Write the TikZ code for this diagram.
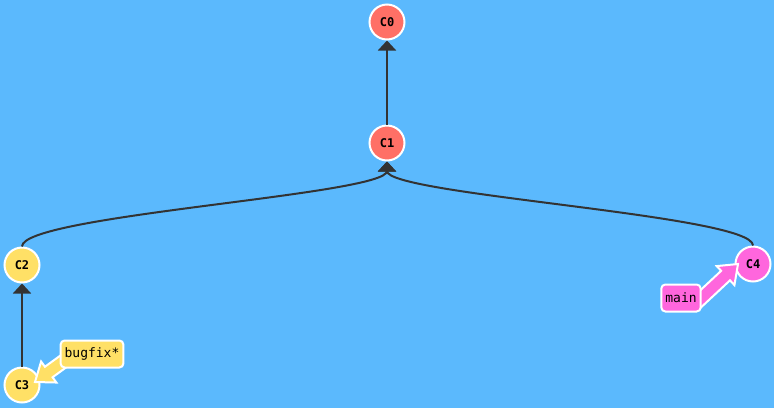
\documentclass[tikz,border=0pt]{standalone}
\usepackage{fontspec}
\setmonofont{DejaVu Sans Mono}
\usetikzlibrary{arrows.meta}
\definecolor{bg}{HTML}{5BB9FD}
\definecolor{cred}{HTML}{FF7066}
\definecolor{cyel}{HTML}{FFE066}
\definecolor{cpink}{HTML}{FF66DD}
\definecolor{edge}{HTML}{333333}
\tikzset{
  commit/.style={circle,draw=white,line width=2pt,minimum size=35pt,inner sep=0pt,font=\ttfamily\bfseries\fontsize{12}{14}\selectfont},
  branch/.style={rounded corners=4pt,draw=white,line width=2pt,inner xsep=4pt,minimum height=27pt,font=\ttfamily\fontsize{13}{15}\selectfont},
  link/.style={draw=edge,line width=2pt,-{Triangle[length=10pt,width=18pt]}},
  fatarrow/.style={draw=white,line width=2pt,line join=miter},
}
% #1 tip coordinate, #2 canvas angle of pointing direction, #3 length, #4 colour
\newcommand{\fatarrow}[4]{%
  \begin{scope}[shift={(#1)},rotate=#2]
    \filldraw[fatarrow,fill=#4]
      (-#3pt,6.5pt) -- (-17pt,6.5pt) -- (-17pt,13pt) -- (0pt,0pt)
      -- (-17pt,-13pt) -- (-17pt,-6.5pt) -- (-#3pt,-6.5pt) -- cycle;
  \end{scope}
}
\begin{document}
\begin{tikzpicture}[x=1pt,y=-1pt]
\fill[bg] (0,0) rectangle (774,408);
\useasboundingbox (0,0) rectangle (774,408);
\node[commit,fill=cred] (c0) at (387,22) {C0};
\node[commit,fill=cred] (c1) at (387,143) {C1};
\node[commit,fill=cyel] (c2) at (22,265) {C2};
\node[commit,fill=cyel] (c3) at (22,385) {C3};
\node[commit,fill=cpink] (c4) at (753,264) {C4};
\draw[link] (c1.north) -- (c0.south);
\draw[link] (c3.north) -- (c2.south);
\draw[link] (c2.north) .. controls (22,215) and (387,195) .. (c1.south);
\draw[link] (c4.north) .. controls (753,215) and (387,195) .. (c1.south);
\coordinate (bt) at (35,382);
\fatarrow{bt}{216}{50}{cyel}
\node[branch,fill=cyel] (bug) at (92,354) {bugfix*};
\coordinate (mt) at (738,264);
\fatarrow{mt}{43}{60}{cpink}
\node[branch,fill=cpink] (main) at (681,298) {main};
\end{tikzpicture}
\end{document}
